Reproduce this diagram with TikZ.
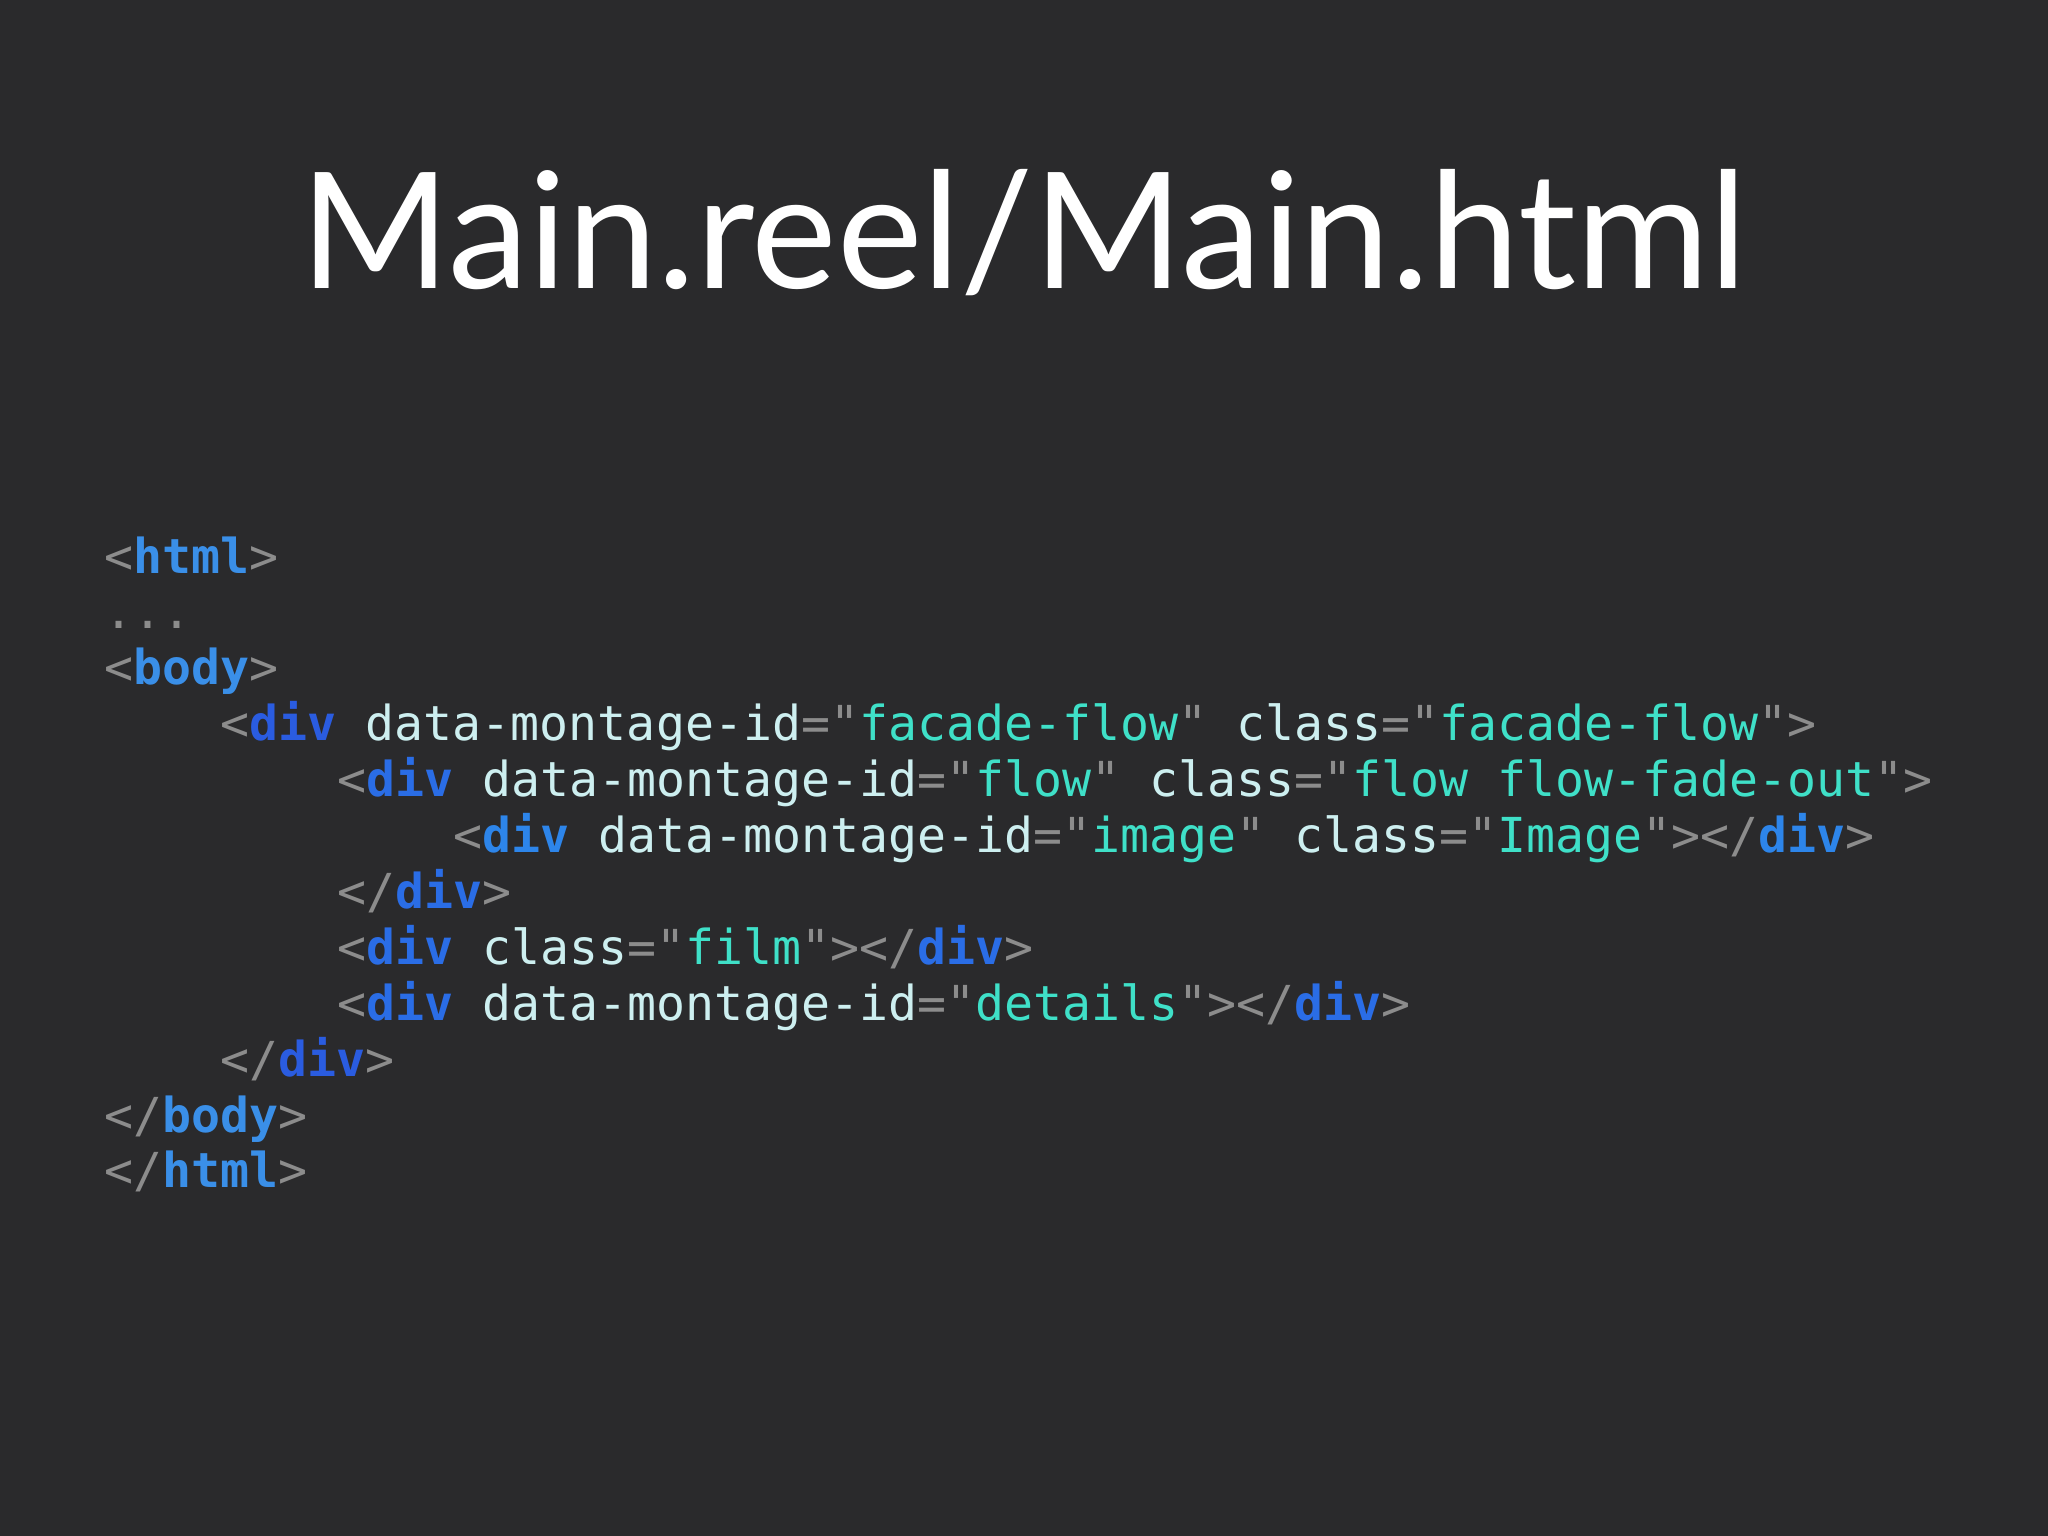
\documentclass[tikz,border=0pt]{standalone}
\usepackage{fontspec}
\setmainfont{Lato}
\setmonofont{DejaVu Sans Mono}
\definecolor{bg}{HTML}{2A2A2C}
\definecolor{punc}{HTML}{8C8C8C}
\definecolor{attr}{HTML}{CDEFF0}
\definecolor{val}{HTML}{3FE0C8}
\definecolor{tagA}{HTML}{3A8FE8}
\definecolor{tagB}{HTML}{2A5CE0}
\definecolor{tagC}{HTML}{2A6DE6}
\definecolor{tagD}{HTML}{2D85EA}
\newcommand\pq[1]{\textcolor{punc}{#1}}
\newcommand\tg[2]{\textcolor{#1}{\bfseries #2}}
\newcommand\at[1]{\textcolor{attr}{#1}}
\newcommand\vl[1]{\pq{"}\textcolor{val}{#1}\pq{"}}
\tikzset{code/.style={anchor=base west,inner sep=0pt,font=\ttfamily\fontsize{13.7}{16}\selectfont}}
\begin{document}
\begin{tikzpicture}[x=0.01cm,y=-0.01cm]
\fill[bg] (0,0) rectangle (2048,1536);
\node[font=\fontsize{46}{50}\selectfont,text=white,anchor=base] (title) at (1024,288) {Main.reel/Main.html};
\def\cw{29.06}
\def\lh{55.9}
\node[code] (l1) at (104,573+0*\lh) {\pq{<}\tg{tagA}{html}\pq{>}};
\node[code] (l2) at (104,573+1*\lh) {\pq{...}};
\node[code] (l3) at (104,573+2*\lh) {\pq{<}\tg{tagA}{body}\pq{>}};
\node[code] (l4) at (104+4*\cw,573+3*\lh) {\pq{<}\tg{tagB}{div}\ \at{data-montage-id}\pq{=}\vl{facade-flow}\ \at{class}\pq{=}\vl{facade-flow}\pq{>}};
\node[code] (l5) at (104+8*\cw,573+4*\lh) {\pq{<}\tg{tagC}{div}\ \at{data-montage-id}\pq{=}\vl{flow}\ \at{class}\pq{=}\vl{flow flow-fade-out}\pq{>}};
\node[code] (l6) at (104+12*\cw,573+5*\lh) {\pq{<}\tg{tagD}{div}\ \at{data-montage-id}\pq{=}\vl{image}\ \at{class}\pq{=}\vl{Image}\pq{></}\tg{tagD}{div}\pq{>}};
\node[code] (l7) at (104+8*\cw,573+6*\lh) {\pq{</}\tg{tagC}{div}\pq{>}};
\node[code] (l8) at (104+8*\cw,573+7*\lh) {\pq{<}\tg{tagC}{div}\ \at{class}\pq{=}\vl{film}\pq{></}\tg{tagC}{div}\pq{>}};
\node[code] (l9) at (104+8*\cw,573+8*\lh) {\pq{<}\tg{tagC}{div}\ \at{data-montage-id}\pq{=}\vl{details}\pq{></}\tg{tagC}{div}\pq{>}};
\node[code] (l10) at (104+4*\cw,573+9*\lh) {\pq{</}\tg{tagB}{div}\pq{>}};
\node[code] (l11) at (104,573+10*\lh) {\pq{</}\tg{tagA}{body}\pq{>}};
\node[code] (l12) at (104,573+11*\lh) {\pq{</}\tg{tagA}{html}\pq{>}};
\end{tikzpicture}
\end{document}
